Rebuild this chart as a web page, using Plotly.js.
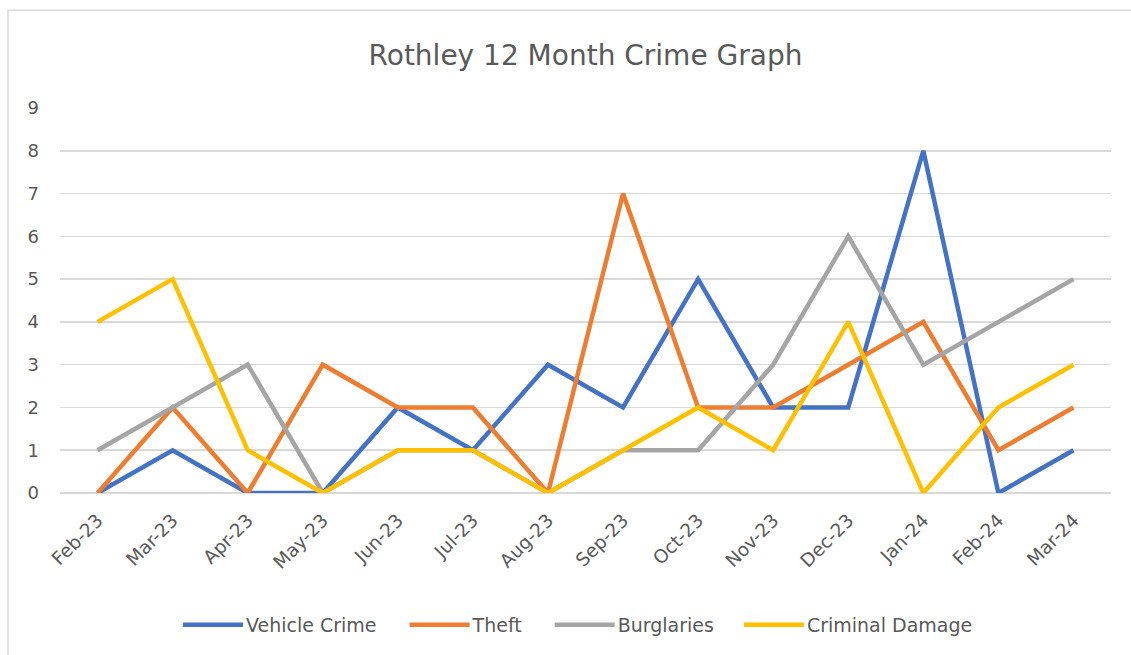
<!DOCTYPE html>
<html>
<head>
<meta charset="utf-8">
<script src="https://cdn.plot.ly/plotly-3.0.1.min.js"></script>
<style>html,body{margin:0;padding:0;background:#fff;}#chart{width:1131px;height:655px;}</style>
</head>
<body>
<div id="chart"></div>
<script>
const months = ["Feb-23","Mar-23","Apr-23","May-23","Jun-23","Jul-23","Aug-23","Sep-23","Oct-23","Nov-23","Dec-23","Jan-24","Feb-24","Mar-24"];
const vehicleCrime = [0,1,0,0,2,1,3,2,5,2,2,8,0,1];
const theft = [0,2,0,3,2,2,0,7,2,2,3,4,1,2];
const burglaries = [1,2,3,0,1,1,0,1,1,3,6,3,4,5];
const criminalDamage = [4,5,1,0,1,1,0,1,2,1,4,0,2,3];
const seriesNames = ["Vehicle Crime","Theft","Burglaries","Criminal Damage"];
const colors = ["#4472C4","#ED7D31","#A5A5A5","#FFC000"];
const allSeries = [vehicleCrime, theft, burglaries, criminalDamage];

const font = "'DejaVu Sans', 'Open Sans', sans-serif";
const traces = allSeries.map((ys, i) => ({
  x: months, y: ys, name: seriesNames[i], type: 'scatter', mode: 'lines',
  line: {color: colors[i], width: 4.5}, cliponaxis: false
}));

const layout = {
  width: 1131, height: 655,
  margin: {l: 60, r: 20, t: 108, b: 161},
  paper_bgcolor: '#ffffff', plot_bgcolor: '#ffffff',
  font: {family: font, color: '#595959', size: 18},
  title: {text: 'Rothley 12 Month Crime Graph', font: {family: font, size: 28, color: '#595959'},
          x: 0.5, xanchor: 'center', y: 1 - 55/655, yanchor: 'middle', xref: 'paper', yref: 'container'},
  xaxis: {type: 'category', range: [-0.5, 13.5], tickangle: -45, showgrid: false, zeroline: false,
          showline: false, ticks: '', ticklabelstandoff: 12, tickfont: {size: 18.5, color: '#595959'}, fixedrange: true},
  yaxis: {range: [0, 9], dtick: 1, showgrid: true, gridcolor: '#D9D9D9', gridwidth: 1.5,
          zeroline: true, zerolinecolor: '#D9D9D9', zerolinewidth: 1.5, showline: false, ticks: '',
          ticklabelstandoff: 20, tickfont: {size: 18, color: '#595959'}, fixedrange: true},
  legend: {orientation: 'h', x: 0.5, xanchor: 'center', y: (494-625)/386, yanchor: 'middle',
           font: {size: 19, color: '#595959'}, itemwidth: 58, tracegroupgap: 0},
  showlegend: true,
  shapes: [{type: 'rect', xref: 'paper', yref: 'paper',
            x0: (8-60)/1051, x1: (1140-60)/1051, y0: (494-670)/386, y1: (494-10)/386,
            line: {color: '#D9D9D9', width: 1.5}, fillcolor: 'rgba(0,0,0,0)', layer: 'below'}]
};
Plotly.newPlot('chart', traces, layout, {displayModeBar: false, staticPlot: true}).then(gd => {
  gd.querySelectorAll('.legend .legendlines path').forEach(p => p.setAttribute('d', 'M5,0h60'));
  gd.querySelectorAll('.legend [clip-path]').forEach(el => el.removeAttribute('clip-path'));
  // spread legend entries to match the reference spacing
  const shifts = [-40, -17, 5, 25];
  gd.querySelectorAll('.legend .traces').forEach((g, i) => {
    const t = g.getAttribute('transform') || '';
    const m = t.match(/translate\(([-\d.]+)[ ,]+([-\d.]+)\)/);
    if (m) g.setAttribute('transform', `translate(${parseFloat(m[1]) + (shifts[i] || 0)},${m[2]})`);
  });
});
</script>
</body>
</html>
